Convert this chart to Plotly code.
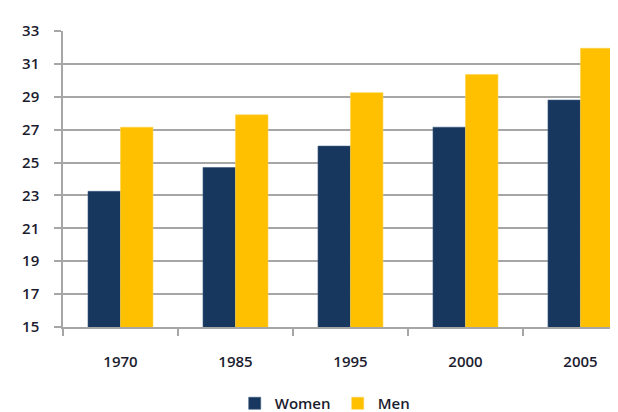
import plotly.graph_objects as go

# data
years = ['1970', '1985', '1995', '2000', '2005']
women = [23.25, 24.7, 26.0, 27.15, 28.8]
men = [27.15, 27.9, 29.25, 30.35, 31.95]

navy = '#17375E'
gold = '#FFC000'
grid = '#A6A6A6'

fig = go.Figure()
fig.add_trace(go.Bar(x=years, y=women, name='Women', marker_color=navy,
                     marker_line=dict(color='#3b5a80', width=0.6), base=0))
fig.add_trace(go.Bar(x=years, y=men, name='Men', marker_color=gold,
                     marker_line=dict(color='#ffd24d', width=0.6), base=0))

fig.update_layout(
    width=618, height=412,
    margin=dict(l=55, r=0, t=23, b=86),
    paper_bgcolor='white', plot_bgcolor='white',
    barmode='group', bargap=0.435, bargroupgap=0,
    font=dict(family='Open Sans, Liberation Sans, sans-serif', size=15,
              color='#1c1c30', weight=600),
    legend=dict(orientation='h', x=0.305, xanchor='left', y=-0.26, yanchor='middle',
                font=dict(size=15), itemwidth=30, traceorder='normal',
                entrywidth=58, entrywidthmode='pixels'),
    showlegend=True,
)
fig.update_xaxes(
    type='category', range=[-0.5, 4.396], automargin=False,
    showline=True, linecolor=grid, linewidth=1.5,
    ticks='outside', tickson='boundaries', ticklen=7, tickcolor=grid, tickwidth=1.5,
    showgrid=False, ticklabelstandoff=20,
)
fig.update_yaxes(
    range=[15, 33], dtick=2, tick0=15, automargin=False,
    showgrid=True, gridcolor=grid, gridwidth=1.5,
    showline=True, linecolor=grid, linewidth=1.5,
    ticks='outside', ticklen=7, tickcolor=grid, tickwidth=1.5,
    zeroline=False, ticklabelstandoff=12,
)

fig.write_html("out.html")
